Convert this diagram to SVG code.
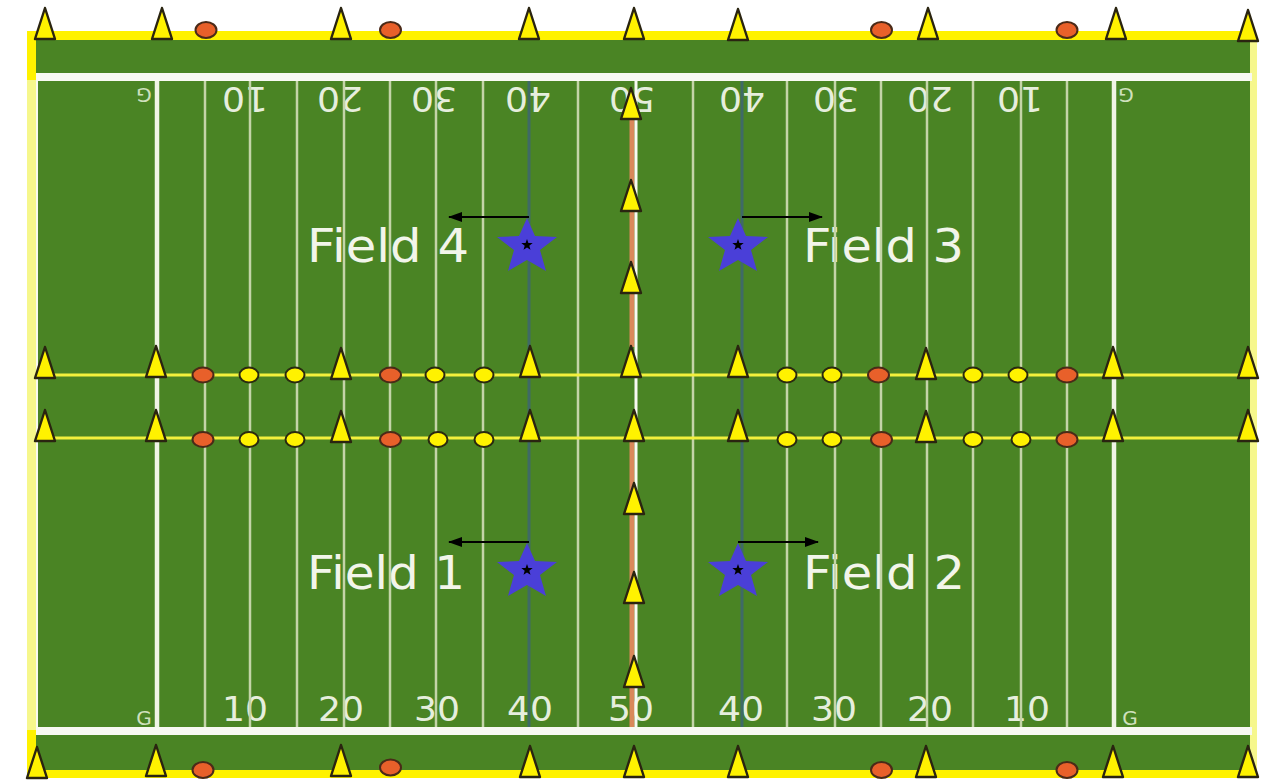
<svg xmlns="http://www.w3.org/2000/svg" width="1262" height="782" viewBox="0 0 1262 782">
<style>
.yl{stroke:#c4d4a8;stroke-width:2.5;fill:none}
.gl{stroke:#f0f4e6;stroke-width:4.5;fill:none}
.dk{stroke:#3f6a66;stroke-width:3;fill:none}
.rope{stroke:#f2f03c;stroke-width:3;fill:none}
.cone{fill:#fff200;stroke:#2a2410;stroke-width:2.4;stroke-linejoin:round}
.red{fill:#e8602a;stroke:#4a2a18;stroke-width:2}
.yd{fill:#fff200;stroke:#2a2a10;stroke-width:2}
.num{font-family:"DejaVu Sans",sans-serif;font-size:34px;fill:#e6eedd;text-anchor:middle}
.g{font-family:"DejaVu Sans",sans-serif;font-size:20px;fill:#cfe0bd;text-anchor:middle}
.lab{font-family:"DejaVu Sans",sans-serif;font-size:46px;fill:#f2f5ea}
.star{fill:#4a3fd8}
.arr{stroke:#000;stroke-width:1.8;fill:none;marker-end:url(#ah)}
</style>
<defs>
<marker id="ah" markerWidth="14" markerHeight="10" refX="13" refY="5" orient="auto" markerUnits="userSpaceOnUse"><path d="M0 0L14 5L0 10Z" fill="#000"/></marker>
<path id="c" class="cone" d="M0 0L-10 31L10 31Z"/>
<path id="s" class="star" d="M0-27L8-9L30-8L13 5L19 26L0 15L-19 26L-13 5L-30-8L-8-9Z"/>
<path id="t" fill="#000" d="M0-6L1.4-1.900L5.700-1.900L2.300 .8L3.500 4.800L0 2.400L-3.500 4.800L-2.300 .8L-5.700-1.900L-1.400-1.900Z"/>
</defs>
<rect width="1262" height="782" fill="#fff"/>
<g id="field">
<rect x="27" y="31" width="1223" height="747" fill="#fff200"/>
<rect x="1250" y="40" width="7" height="738" fill="#f6f78c"/>
<rect x="27" y="80" width="9" height="650" fill="#f6f78c"/>
<rect x="36" y="40" width="1214" height="730" fill="#4a8424"/>
<rect x="36" y="73" width="1216" height="8" fill="#f8f9f2"/>
<rect x="36" y="727" width="1216" height="8" fill="#f8f9f2"/>
<rect x="36" y="81" width="2" height="646" fill="#f8f9f2"/>
</g>
<g id="numbers">
<text class="num" x="245" y="721" textLength="46" lengthAdjust="spacingAndGlyphs">10</text><text class="num" x="341" y="721" textLength="46" lengthAdjust="spacingAndGlyphs">20</text><text class="num" x="437" y="721" textLength="46" lengthAdjust="spacingAndGlyphs">30</text><text class="num" x="530" y="721" textLength="46" lengthAdjust="spacingAndGlyphs">40</text><text class="num" x="631" y="721" textLength="46" lengthAdjust="spacingAndGlyphs">50</text><text class="num" x="741" y="721" textLength="46" lengthAdjust="spacingAndGlyphs">40</text><text class="num" x="834" y="721" textLength="46" lengthAdjust="spacingAndGlyphs">30</text><text class="num" x="930" y="721" textLength="46" lengthAdjust="spacingAndGlyphs">20</text><text class="num" x="1027" y="721" textLength="46" lengthAdjust="spacingAndGlyphs">10</text>
<text class="g" x="144" y="725">G</text><text class="g" x="1130" y="725">G</text>
<text class="num" transform="rotate(180 245 99)" x="245" y="111.500" textLength="46" lengthAdjust="spacingAndGlyphs">10</text><text class="num" transform="rotate(180 340 99)" x="340" y="111.500" textLength="46" lengthAdjust="spacingAndGlyphs">20</text><text class="num" transform="rotate(180 434 99)" x="434" y="111.500" textLength="46" lengthAdjust="spacingAndGlyphs">30</text><text class="num" transform="rotate(180 528 99)" x="528" y="111.500" textLength="46" lengthAdjust="spacingAndGlyphs">40</text><text class="num" transform="rotate(180 632 99)" x="632" y="111.500" textLength="46" lengthAdjust="spacingAndGlyphs">50</text><text class="num" transform="rotate(180 742 99)" x="742" y="111.500" textLength="46" lengthAdjust="spacingAndGlyphs">40</text><text class="num" transform="rotate(180 836 99)" x="836" y="111.500" textLength="46" lengthAdjust="spacingAndGlyphs">30</text><text class="num" transform="rotate(180 930 99)" x="930" y="111.500" textLength="46" lengthAdjust="spacingAndGlyphs">20</text><text class="num" transform="rotate(180 1020 99)" x="1020" y="111.500" textLength="46" lengthAdjust="spacingAndGlyphs">10</text>
<text class="g" transform="rotate(180 144 95)" x="144" y="102">G</text><text class="g" transform="rotate(180 1126 95)" x="1126" y="102">G</text>
</g>
<g id="labels">
<text class="lab" x="307" y="262" textLength="162" lengthAdjust="spacingAndGlyphs">Field 4</text>
<text class="lab" x="803" y="262" textLength="161" lengthAdjust="spacingAndGlyphs">Field 3</text>
<text class="lab" x="307" y="589" textLength="158" lengthAdjust="spacingAndGlyphs">Field 1</text>
<text class="lab" x="803" y="589" textLength="162" lengthAdjust="spacingAndGlyphs">Field 2</text>
</g>
<g id="yard-lines">
<path class="gl" d="M157 81V727M1114 81V727"/>
<path class="yl" d="M205 81V727M250 81V727M297 81V727M344 81V727M390 81V727M436 81V727M483 81V727M578 81V727M693 81V727M787 81V727M835 81V727M881 81V727M927 81V727M973 81V727M1021 81V727M1067 81V727"/>
<path class="dk" d="M529 81V727M742 81V727"/>
<path stroke="#d9885a" stroke-width="5" fill="none" d="M632 95V347M632 440V727"/>
<path stroke="#f8f9f2" stroke-width="3" fill="none" d="M636 81V727"/>
</g>
<g id="ropes">
<path class="rope" d="M45 375H1248M45 438H1248"/>
</g>
<g id="markers-top">
<use href="#c" x="45" y="8"/><use href="#c" x="162" y="8"/><use href="#c" x="341" y="8"/><use href="#c" x="529" y="8"/><use href="#c" x="634" y="8"/><use href="#c" x="738" y="9"/><use href="#c" x="928" y="8"/><use href="#c" x="1116" y="8"/><use href="#c" x="1248" y="10"/>
<ellipse class="red" cx="206" cy="30" rx="10.500" ry="8"/><ellipse class="red" cx="390.500" cy="30" rx="10.500" ry="8"/><ellipse class="red" cx="881.500" cy="30" rx="10.500" ry="8"/><ellipse class="red" cx="1067" cy="30" rx="10.500" ry="8"/>
</g>
<g id="markers-row1">
<use href="#c" x="45" y="347"/><use href="#c" x="156" y="346"/><use href="#c" x="341" y="348"/><use href="#c" x="530" y="346"/><use href="#c" x="631" y="346"/><use href="#c" x="738" y="346"/><use href="#c" x="926" y="348"/><use href="#c" x="1113" y="347"/><use href="#c" x="1248" y="347"/>
<ellipse class="red" cx="203" cy="375" rx="10.500" ry="7.500"/><ellipse class="red" cx="390.500" cy="375" rx="10.500" ry="7.500"/><ellipse class="red" cx="878.500" cy="375" rx="10.500" ry="7.500"/><ellipse class="red" cx="1067" cy="375" rx="10.500" ry="7.500"/>
<ellipse class="yd" cx="249" cy="375" rx="9.500" ry="7.500"/><ellipse class="yd" cx="295" cy="375" rx="9.500" ry="7.500"/><ellipse class="yd" cx="435" cy="375" rx="9.500" ry="7.500"/><ellipse class="yd" cx="484" cy="375" rx="9.500" ry="7.500"/><ellipse class="yd" cx="787" cy="375" rx="9.500" ry="7.500"/><ellipse class="yd" cx="832" cy="375" rx="9.500" ry="7.500"/><ellipse class="yd" cx="973" cy="375" rx="9.500" ry="7.500"/><ellipse class="yd" cx="1018" cy="375" rx="9.500" ry="7.500"/>
</g>
<g id="markers-row2">
<use href="#c" x="45" y="410"/><use href="#c" x="156" y="410"/><use href="#c" x="341" y="411"/><use href="#c" x="530" y="410"/><use href="#c" x="634" y="410"/><use href="#c" x="738" y="410"/><use href="#c" x="926" y="411"/><use href="#c" x="1113" y="410"/><use href="#c" x="1248" y="410"/>
<ellipse class="red" cx="203" cy="439.500" rx="10.500" ry="7.500"/><ellipse class="red" cx="390.500" cy="439.500" rx="10.500" ry="7.500"/><ellipse class="red" cx="881.500" cy="439.500" rx="10.500" ry="7.500"/><ellipse class="red" cx="1067" cy="439.500" rx="10.500" ry="7.500"/>
<ellipse class="yd" cx="249" cy="439.500" rx="9.500" ry="7.500"/><ellipse class="yd" cx="295" cy="439.500" rx="9.500" ry="7.500"/><ellipse class="yd" cx="438" cy="439.500" rx="9.500" ry="7.500"/><ellipse class="yd" cx="484" cy="439.500" rx="9.500" ry="7.500"/><ellipse class="yd" cx="787" cy="439.500" rx="9.500" ry="7.500"/><ellipse class="yd" cx="832" cy="439.500" rx="9.500" ry="7.500"/><ellipse class="yd" cx="973" cy="439.500" rx="9.500" ry="7.500"/><ellipse class="yd" cx="1021" cy="439.500" rx="9.500" ry="7.500"/>
</g>
<g id="markers-center">
<use href="#c" x="631" y="88"/><use href="#c" x="631" y="180"/><use href="#c" x="631" y="262"/><use href="#c" x="634" y="483"/><use href="#c" x="634" y="572"/><use href="#c" x="634" y="656"/>
</g>
<g id="markers-bottom">
<use href="#c" x="37" y="747"/><use href="#c" x="156" y="745"/><use href="#c" x="341" y="745"/><use href="#c" x="530" y="746"/><use href="#c" x="634" y="746"/><use href="#c" x="738" y="746"/><use href="#c" x="926" y="746"/><use href="#c" x="1113" y="746"/><use href="#c" x="1248" y="746"/>
<ellipse class="red" cx="203" cy="770" rx="10.500" ry="8"/><ellipse class="red" cx="390.500" cy="767.500" rx="10.500" ry="8"/><ellipse class="red" cx="881.500" cy="770" rx="10.500" ry="8"/><ellipse class="red" cx="1067" cy="770" rx="10.500" ry="8"/>
</g>
<g id="connectors">
<path class="arr" d="M529 217H449"/><path class="arr" d="M742 217H822"/><path class="arr" d="M529 542H449"/><path class="arr" d="M738 542H818"/>
</g>
<g id="field-4"><use href="#s" x="527" y="245"/><use href="#t" x="527" y="245"/></g>
<g id="field-3"><use href="#s" x="738" y="245"/><use href="#t" x="738" y="245"/></g>
<g id="field-1"><use href="#s" x="527" y="570"/><use href="#t" x="527" y="570"/></g>
<g id="field-2"><use href="#s" x="738" y="570"/><use href="#t" x="738" y="570"/></g>
</svg>
